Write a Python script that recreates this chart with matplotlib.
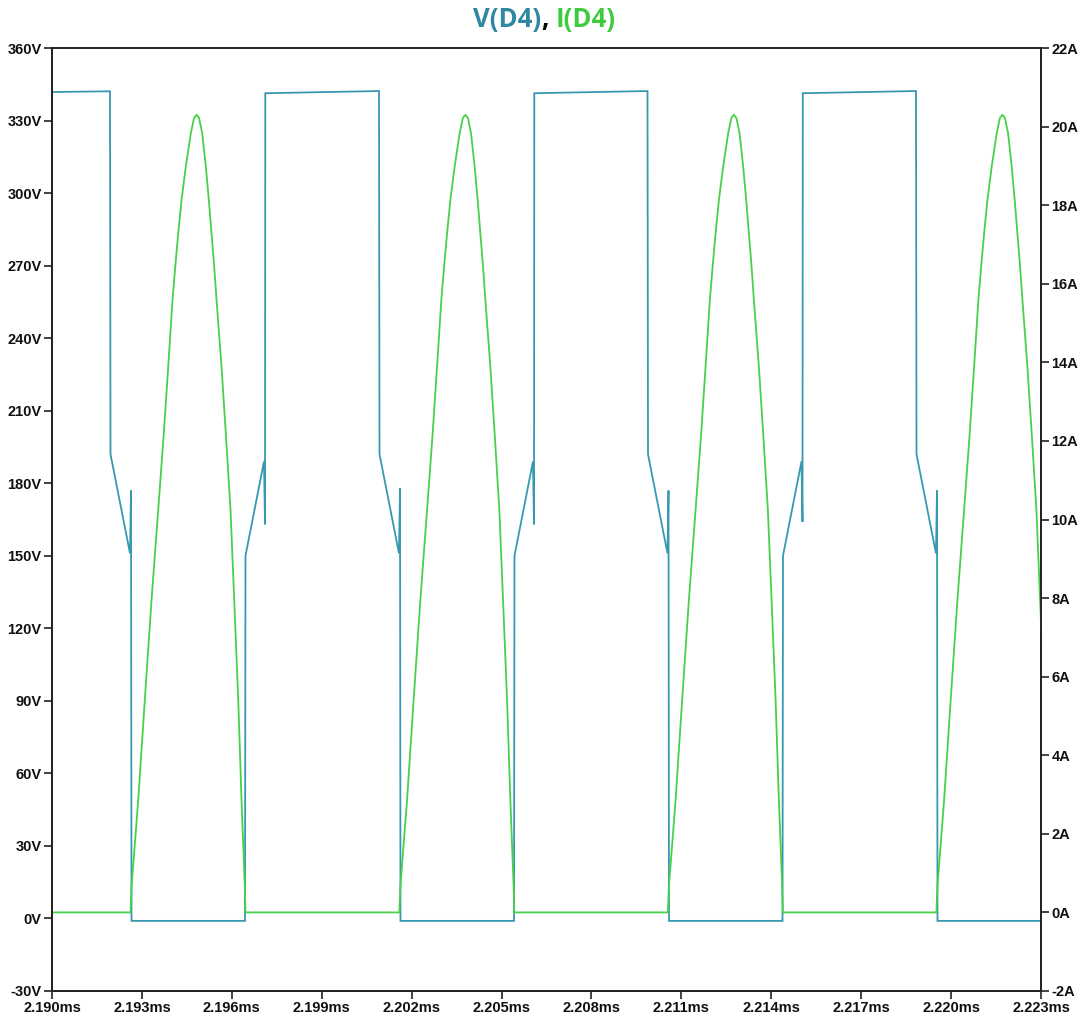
import matplotlib.pyplot as plt
import numpy as np

# time axis is in microseconds after 2.190 ms
T0_MS = 2.190

# V(D4) breakpoints
v_time_us = [0.0, 1.935, 1.952, 2.603, 2.636, 2.653, 6.440, 6.456, 7.074, 7.107, 7.117,
             10.911, 10.928, 11.578, 11.612, 11.628, 15.416, 15.432, 16.049, 16.083, 16.093,
             19.870, 19.887, 20.537, 20.571, 20.587, 24.375, 24.391, 25.008, 25.042, 25.052,
             28.829, 28.846, 29.496, 29.530, 29.546, 33.0]
v_volts = [341.8, 342.1, 192, 151, 177, -1.0, -1.0, 150, 189, 163, 341.3,
           342.2, 192, 151, 178, -1.0, -1.0, 150, 189, 163, 341.3,
           342.2, 192, 151, 177, -1.0, -1.0, 150, 189, 164, 341.3,
           342.2, 192, 151, 177, -1.0, -1.0]

# I(D4): one conduction pulse (offset us, amps) and where each pulse begins
pulse_dt_us = [0.000, 0.033, 0.257, 0.477, 0.701, 0.924, 1.111, 1.258, 1.401, 1.492, 1.592,
               1.702, 1.845, 2.012, 2.119, 2.202, 2.286, 2.392, 2.513, 2.613, 2.703, 2.793,
               2.870, 3.036, 3.180, 3.337, 3.460, 3.594, 3.704, 3.814, 3.837]
pulse_amps = [0.0, 0.65, 2.86, 5.41, 7.95, 10.24, 12.19, 13.89, 15.59, 16.43, 17.28,
              18.13, 18.98, 19.83, 20.22, 20.30, 20.22, 19.83, 18.98, 18.13, 17.28, 16.43,
              15.59, 13.89, 12.19, 10.24, 7.95, 5.41, 2.86, 0.65, 0.0]
pulse_start_us = [2.62, 11.59, 20.55, 29.51]

v_ticks = [-30, 0, 30, 60, 90, 120, 150, 180, 210, 240, 270, 300, 330, 360]
i_ticks = [-2, 0, 2, 4, 6, 8, 10, 12, 14, 16, 18, 20, 22]
t_ticks_ms = [2.190, 2.193, 2.196, 2.199, 2.202, 2.205, 2.208, 2.211, 2.214, 2.217, 2.220, 2.223]

BLUE = '#3799b0'
GREEN = '#48d048'
SPINE = '#222222'

# assemble current trace from the pulses
i_time_us = [0.0]
i_amps = [0.0]
for start in pulse_start_us:
    i_time_us += [start + dt for dt in pulse_dt_us]
    i_amps += pulse_amps
i_time_us.append(33.0)
i_amps.append(0.0)

v_t = T0_MS + np.array(v_time_us) / 1000
i_t = T0_MS + np.array(i_time_us) / 1000

plt.rcParams['font.family'] = ['Liberation Sans', 'DejaVu Sans']

fig = plt.figure(figsize=(10.83, 10.19), dpi=100)
ax = fig.add_axes([52 / 1083, 1 - 991 / 1019, 989 / 1083, 943 / 1019])
ax2 = ax.twinx()

ax.plot(v_t, v_volts, color=BLUE, lw=1.3, solid_joinstyle='miter')
ax2.plot(i_t, i_amps, color=GREEN, lw=1.3)

ax.set_xlim(2.190, 2.223)
ax.set_ylim(-30, 360)
ax2.set_ylim(-2, 22)

ax.set_xticks(t_ticks_ms)
ax.set_xticklabels([f'{t:.3f}ms' for t in t_ticks_ms])
ax.set_yticks(v_ticks)
ax.set_yticklabels([f'{v}V' for v in v_ticks])
ax2.set_yticks(i_ticks)
ax2.set_yticklabels([f'{i}A' for i in i_ticks])

for a in (ax, ax2):
    for s in a.spines.values():
        s.set_color(SPINE)
        s.set_linewidth(1.3)
    a.tick_params(direction='out', length=6, width=1.2, color=SPINE,
                  labelsize=10.5, pad=1.5)
    for lab in a.get_xticklabels() + a.get_yticklabels():
        lab.set_fontweight('bold')
        lab.set_color('#111111')

# title in two colours
title_kw = dict(fontsize=18.5, fontweight='bold', family=['Open Sans', 'DejaVu Sans'],
                va='center')
t1 = fig.text(0.5, 1 - 19 / 1019, 'V(D4)', color='#2f88a3', ha='right', **title_kw)
fig.canvas.draw()
bb = t1.get_window_extent()
x_right = bb.x1 / fig.bbox.width
t2 = fig.text(x_right, 1 - 19 / 1019, ', ', color='black', ha='left', **title_kw)
bb2 = t2.get_window_extent()
fig.text(bb2.x1 / fig.bbox.width, 1 - 19 / 1019, 'I(D4)', color='#3ecb3e', ha='left', **title_kw)

fig.savefig('out.png', dpi=100, facecolor='white')
